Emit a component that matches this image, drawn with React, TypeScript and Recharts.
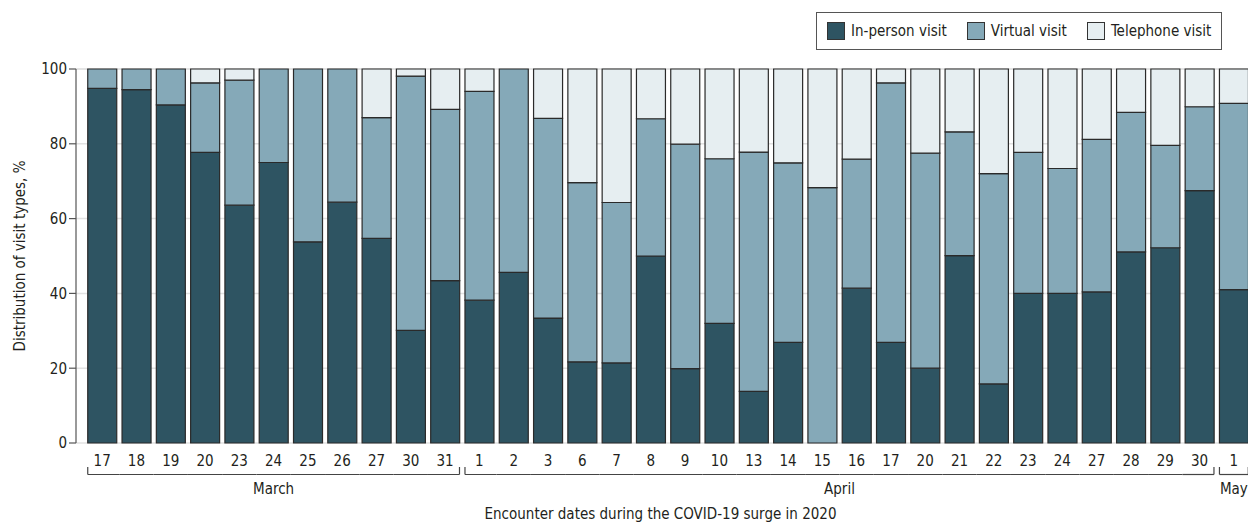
import React from 'react'
import { BarChart, Bar, XAxis, YAxis, CartesianGrid } from 'recharts'

// encounter dates, in order, with the month each belongs to
const days = [
  '17', '18', '19', '20', '23', '24', '25', '26', '27', '30', '31',
  '1', '2', '3', '6', '7', '8', '9', '10', '13', '14', '15', '16', '17', '20', '21', '22', '23', '24', '27', '28', '29', '30',
  '1',
]
const months = [
  ...Array(11).fill('March'),
  ...Array(22).fill('April'),
  'May',
]

// share of visits, %
const inPerson = [
  94.8, 94.5, 90.4, 77.7, 63.6, 75.0, 53.8, 64.4, 54.7, 30.1, 43.4,
  38.2, 45.6, 33.4, 21.7, 21.4, 50.0, 19.9, 32.0, 13.8, 26.9, 0, 41.4, 26.9, 20.0, 50.1, 15.8, 40.0, 40.0, 40.4, 51.1, 52.2, 67.5,
  41.0,
]
const virtual = [
  5.2, 5.5, 9.6, 18.6, 33.4, 25.0, 46.2, 35.6, 32.3, 68.0, 45.8,
  55.8, 54.4, 53.4, 47.9, 42.9, 36.7, 60.0, 44.0, 64.0, 48.0, 68.3, 34.5, 69.4, 57.5, 33.1, 56.2, 37.7, 33.4, 40.8, 37.3, 27.4, 22.4,
  49.8,
]
const telephone = [
  0, 0, 0, 3.7, 3.0, 0, 0, 0, 13.0, 1.9, 10.8,
  6.0, 0, 13.2, 30.4, 35.7, 13.3, 20.1, 24.0, 22.2, 25.1, 31.7, 24.1, 3.7, 22.5, 16.8, 28.0, 22.3, 26.6, 18.8, 11.6, 20.4, 10.1,
  9.2,
]

const yTicks = [0, 20, 40, 60, 80, 100]

const series = [
  { key: 'inPerson', name: 'In-person visit', color: '#2e5462' },
  { key: 'virtual', name: 'Virtual visit', color: '#85a9b8' },
  { key: 'telephone', name: 'Telephone visit', color: '#e6eef1' },
]

const data = days.map((day, i) => ({
  id: `${months[i]} ${day}`,
  day,
  month: months[i],
  inPerson: inPerson[i],
  virtual: virtual[i],
  telephone: telephone[i],
}))

const FONT = "'Liberation Sans Narrow', 'DejaVu Sans Condensed', Roboto, sans-serif"
const TEXT = '#231f20'

const W = 1260
const H = 527
const M = { top: 69, right: 9, left: 0, bottom: 0 }
const Y_W = 76
const X_H = 84
const PAD_L = 9
const GAP = 0.08
const PITCH = (W - M.left - M.right - Y_W - PAD_L) / days.length
const BAR_HALF = (PITCH * (1 - 2 * GAP)) / 2
const PLOT_BOTTOM = H - M.bottom - X_H

function DayTick(props: any) {
  const { x, payload } = props
  const i = payload.index
  const month = months[i]
  const first = i === 0 || months[i - 1] !== month
  const last = i === months.length - 1 || months[i + 1] !== month
  const lineY = PLOT_BOTTOM + 31.5
  const hookY = PLOT_BOTTOM + 24
  const x1 = first ? x - BAR_HALF : x - PITCH / 2
  const x2 = last ? x + BAR_HALF : x + PITCH / 2
  let span = 0
  if (first) {
    let j = i
    while (j + 1 < months.length && months[j + 1] === month) j++
    span = j - i
  }
  return (
    <g>
      <text x={x} y={PLOT_BOTTOM + 23} textAnchor="middle" fontSize={15} fill={TEXT} fontFamily={FONT}>
        {days[i]}
      </text>
      <line x1={x1} x2={x2} y1={lineY} y2={lineY} stroke="#444" strokeWidth={1.2} />
      {first && <line x1={x1} x2={x1} y1={hookY} y2={lineY} stroke="#444" strokeWidth={1.2} />}
      {last && <line x1={x2} x2={x2} y1={hookY} y2={lineY} stroke="#444" strokeWidth={1.2} />}
      {first && (
        <text x={x + (span * PITCH) / 2} y={PLOT_BOTTOM + 51} textAnchor="middle" fontSize={15} fill={TEXT} fontFamily={FONT}>
          {month}
        </text>
      )}
    </g>
  )
}

function YTitle() {
  const cx = 20
  const cy = M.top + (PLOT_BOTTOM - M.top) / 2
  return (
    <text x={cx} y={cy} transform={`rotate(-90 ${cx} ${cy})`} textAnchor="middle" dominantBaseline="central" fontSize={15} fill={TEXT} fontFamily={FONT}>
      Distribution of visit types, %
    </text>
  )
}

function XTitle(props: any) {
  const { viewBox } = props
  const cx = viewBox.x + viewBox.width / 2
  return (
    <text x={cx - 3} y={PLOT_BOTTOM + 76} textAnchor="middle" fontSize={15} fill={TEXT} fontFamily={FONT}>
      Encounter dates during the COVID-19 surge in 2020
    </text>
  )
}

function LegendBox() {
  return (
    <div
      style={{
        position: 'absolute',
        left: 816,
        top: 12,
        width: 406,
        height: 38,
        border: '1.5px solid #555',
        boxSizing: 'border-box',
        display: 'flex',
        alignItems: 'center',
        paddingLeft: 10,
        gap: 20,
        fontFamily: FONT,
        fontSize: 15,
        color: TEXT,
        background: '#fff',
      }}
    >
      {series.map((s) => (
        <div key={s.key} style={{ display: 'flex', alignItems: 'center', gap: 6 }}>
          <span
            style={{
              width: 18,
              height: 18,
              background: s.color,
              border: '1px solid #333',
              boxSizing: 'border-box',
              display: 'inline-block',
            }}
          />
          <span>{s.name}</span>
        </div>
      ))}
    </div>
  )
}

export default function App() {
  return (
    <div style={{ position: 'absolute', left: 0, top: 0, width: 1248, height: H, overflow: 'hidden', background: '#fff' }}>
      <BarChart width={W} height={H} data={data} margin={M} barCategoryGap={`${GAP * 100}%`}>
        <CartesianGrid vertical={false} stroke="#e2e2e2" strokeWidth={1.5} />
        <XAxis
          dataKey="id"
          height={X_H}
          interval={0}
          axisLine={false}
          tickLine={false}
          padding={{ left: PAD_L, right: 0 }}
          tick={<DayTick />}
          label={<XTitle />}
        />
        <YAxis
          width={Y_W}
          domain={[0, 100]}
          ticks={yTicks}
          interval={0}
          tickSize={7}
          tickMargin={2}
          axisLine={{ stroke: '#555', strokeWidth: 1.2 }}
          tickLine={{ stroke: '#555', strokeWidth: 1.2 }}
          tick={{ fill: TEXT, fontSize: 15, fontFamily: FONT }}
          label={<YTitle />}
        />
        {series.map((s) => (
          <Bar
            key={s.key}
            dataKey={s.key}
            name={s.name}
            stackId="visits"
            fill={s.color}
            stroke="#2a2a2a"
            strokeWidth={1.2}
            isAnimationActive={false}
          />
        ))}
      </BarChart>
      <LegendBox />
    </div>
  )
}
